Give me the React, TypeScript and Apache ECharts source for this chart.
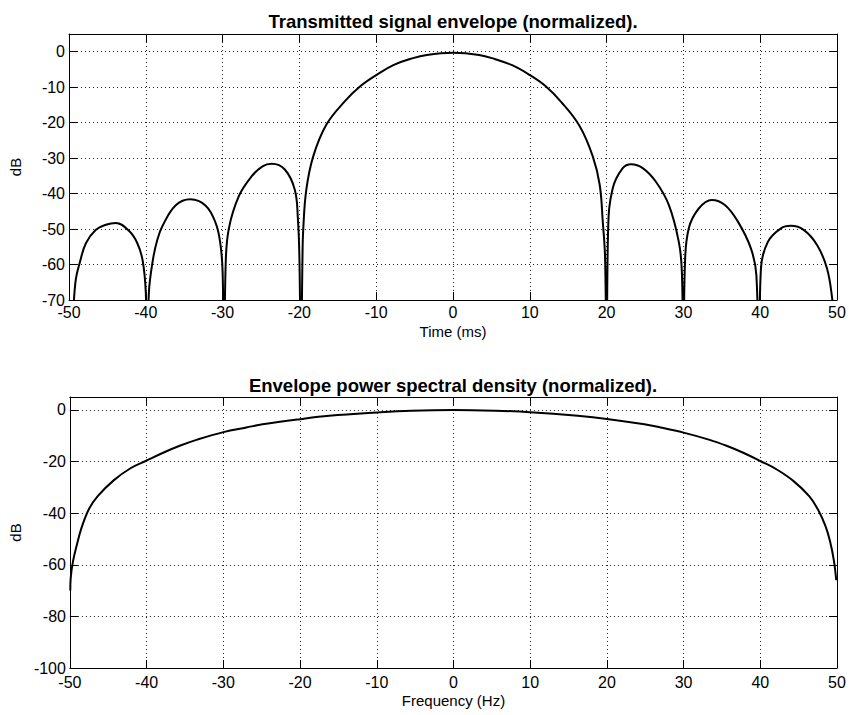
import React, { useEffect, useRef } from "react";
import * as echarts from "echarts";

// Top panel: transmitted signal envelope (dB) vs time (ms)
const timeMs = [
  -49.4, -49.1, -48.6, -47.8, -46.5, -45.2, -43.9, -42.2, -41.1, -40.4, -40.0, -39.8,
  -39.6, -39.1, -38.5, -37.8, -36.1, -34.2, -32.2, -30.9, -30.3, -30.0, -29.8,
  -29.6, -29.2, -27.9, -26.2, -24.8, -23.6, -21.9, -20.6, -20.2, -20.0, -19.8,
  -19.6, -19.5, -19.1, -18.2, -16.5, -14.1, -12.0, -9.8, -7.7, -5.5, -3.4, 0,
  3.4, 5.5, 7.7, 9.8, 12.0, 14.1, 16.5, 18.2, 19.1, 19.5, 19.8, 20.0,
  20.2, 20.8, 22.1, 23.2, 24.7, 26.4, 28.1, 29.4, 29.8, 30.0,
  30.2, 30.7, 32.0, 33.7, 35.4, 37.1, 38.8, 39.5, 39.8,
  40.1, 41.0, 42.7, 44.0, 45.7, 47.4, 48.7, 49.4, 49.6,
];
const envelopeDb = [
  -72, -64, -59.5, -54, -50.2, -48.8, -48.3, -50.5, -54, -59, -68, -90,
  -68, -59, -53, -49, -43.3, -41.6, -43.4, -48.3, -54, -62, -90,
  -60, -50, -40.8, -35.1, -32.3, -31.6, -33.2, -38.9, -47, -58, -90,
  -58, -50.1, -38.9, -29.5, -20.6, -14.0, -9.6, -6.3, -3.7, -2.0, -0.9, -0.3,
  -0.9, -2.1, -3.8, -6.3, -9.6, -14.2, -21.0, -29.5, -37.5, -47.9, -58, -90,
  -50, -38.5, -32.8, -31.7, -32.8, -36.6, -43.2, -53.6, -62, -90,
  -60, -49.8, -44.2, -41.8, -43.2, -47.9, -55.5, -63, -90,
  -61, -53.6, -49.8, -49.1, -50.3, -54.5, -61.1, -70, -75,
];

// Bottom panel: envelope power spectral density (dB) vs frequency (Hz)
const freqHz = [
  -49.95, -49.9, -49.6, -49.1, -48.5, -47.5, -46.4, -44.3, -42.1, -40, -37.7, -35.6,
  -33.4, -30, -27, -24.9, -20, -16.2, -10, -5.5, 0, 5.5, 10, 16.2, 20, 24.9, 27, 30, 33.4,
  35.6, 37.7, 40, 42.1, 44.3, 46.4, 47.5, 48.5, 49.1, 49.6, 49.9,
];
const psdDb = [
  -70, -65.2, -58.7, -52.3, -45.8, -38.3, -33.5, -27.3, -22.6, -19.6, -16.4, -13.8,
  -11.5, -8.6, -6.8, -5.6, -3.6, -2.3, -1.0, -0.3, 0, -0.3, -0.9, -2.3, -3.5, -5.6, -6.8, -8.8, -11.6,
  -13.9, -16.5, -19.8, -23.0, -27.5, -33.5, -38.5, -45.0, -51.0, -58.5, -66,
];

const titles = [
  "Transmitted signal envelope (normalized).",
  "Envelope power spectral density (normalized).",
];

const FONT = "'Liberation Sans', Arial, Helvetica, sans-serif";

export default function App() {
  const ref = useRef<HTMLDivElement>(null);

  useEffect(() => {
    if (!ref.current) return;
    const chart = echarts.init(ref.current, undefined, { renderer: "svg" });

    const gridLine = { show: true, lineStyle: { color: "#222", type: [1, 3], width: 1 } };
    const axisLine = { show: true, onZero: false, lineStyle: { color: "#000", width: 1 } };
    const tick = { show: true, inside: true, length: 8, lineStyle: { color: "#000", width: 1 } };
    const labelStyle = { color: "#000", fontSize: 16, fontFamily: FONT };
    const nameStyle = { color: "#000", fontSize: 15, fontFamily: FONT };

    const mainX = (gridIndex: number, name: string, margin: number, gap: number) => ({
      type: "value",
      gridIndex,
      min: -50,
      max: 50,
      interval: 10,
      position: "bottom",
      name,
      nameLocation: "middle",
      nameGap: gap,
      nameTextStyle: nameStyle,
      axisLine,
      axisTick: tick,
      axisLabel: { ...labelStyle, margin },
      splitLine: gridLine,
    });
    const boxX = (gridIndex: number) => ({
      type: "value",
      gridIndex,
      min: -50,
      max: 50,
      interval: 10,
      position: "top",
      axisLine,
      axisTick: tick,
      axisLabel: { show: false },
      splitLine: { show: false },
    });
    const mainY = (gridIndex: number, min: number, interval: number) => ({
      type: "value",
      gridIndex,
      min,
      max: 5,
      interval,
      position: "left",
      name: "dB",
      nameLocation: "middle",
      nameGap: 46,
      nameTextStyle: nameStyle,
      axisLine,
      axisTick: tick,
      axisLabel: {
        ...labelStyle,
        margin: 4,
        formatter: (v: number) => (v % interval === 0 ? String(v) : ""),
      },
      splitLine: gridLine,
    });
    const boxY = (gridIndex: number, min: number, interval: number) => ({
      type: "value",
      gridIndex,
      min,
      max: 5,
      interval,
      position: "right",
      axisLine,
      axisTick: tick,
      axisLabel: { show: false },
      splitLine: { show: false },
    });

    chart.setOption({
      animation: false,
      backgroundColor: "#fff",
      title: [
        {
          text: titles[0],
          left: 448,
          top: 7,
          textAlign: "center",
          textStyle: { color: "#000", fontSize: 18.5, fontWeight: "bold", fontFamily: FONT },
        },
        {
          text: titles[1],
          left: 448,
          top: 371,
          textAlign: "center",
          textStyle: { color: "#000", fontSize: 18.5, fontWeight: "bold", fontFamily: FONT },
        },
      ],
      grid: [
        { left: 60, top: 34, width: 777, height: 266 },
        { left: 60, top: 397, width: 777, height: 271 },
      ],
      xAxis: [
        mainX(0, "Time (ms)", 4, 24),
        boxX(0),
        mainX(1, "Frequency (Hz)", 6, 25),
        boxX(1),
      ],
      yAxis: [mainY(0, -70, 10), boxY(0, -70, 10), mainY(1, -100, 20), boxY(1, -100, 20)],
      series: [
        {
          type: "line",
          xAxisIndex: 0,
          yAxisIndex: 0,
          data: timeMs.map((t, i) => [t, envelopeDb[i]]),
          showSymbol: false,
          smooth: 0.4,
          clip: true,
          lineStyle: { color: "#000", width: 2 },
        },
        {
          type: "line",
          xAxisIndex: 2,
          yAxisIndex: 2,
          data: freqHz.map((f, i) => [f, psdDb[i]]),
          showSymbol: false,
          smooth: 0.4,
          clip: true,
          lineStyle: { color: "#000", width: 2 },
        },
      ],
    });

    return () => chart.dispose();
  }, []);

  return (
    <div
      ref={ref}
      style={{ position: "absolute", left: 0, top: 0, width: 849, height: 715, background: "#fff" }}
    />
  );
}
